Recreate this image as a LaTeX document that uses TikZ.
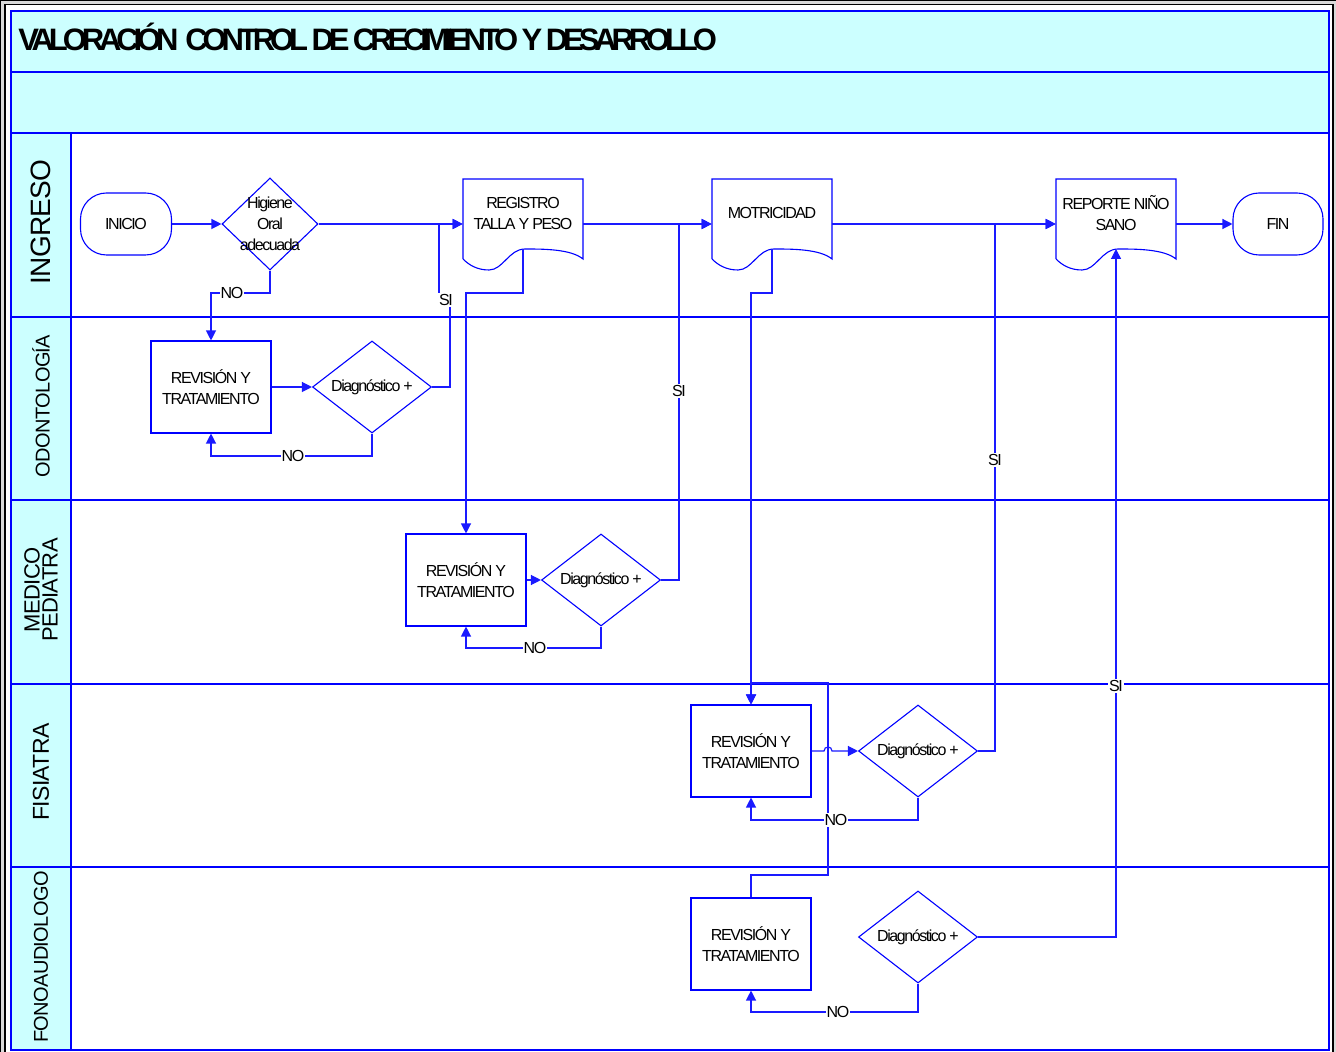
\documentclass[tikz,border=0pt]{standalone}
\usepackage{fontspec}
\setmainfont{Liberation Sans}
\newfontfamily\tightsf[LetterSpace=-9]{Liberation Sans}
\newfontfamily\titlesf[LetterSpace=-16.5]{Liberation Sans}
\newfontfamily\lanesf[LetterSpace=-3]{Liberation Sans}
\usetikzlibrary{shapes.geometric,arrows.meta,calc}
\definecolor{lanecyan}{HTML}{CCFFFF}
\definecolor{lineblue}{HTML}{0000FF}
\definecolor{connblue}{HTML}{1A1AFF}
\newcommand{\docshape}[4]{%
  \node[docbox] (#1) at (#2+60,#3+45) {};
  \coordinate (#1b) at (#2+60,#3+70);
  \draw[shp] (#2,#3+80) -- (#2,#3) -- (#2+120,#3) -- (#2+120,#3+80)
    .. controls (#2+108,#3+70) and (#2+80,#3+70) .. (#2+62,#3+70)
    .. controls (#2+46,#3+70) and (#2+40,#3+91) .. (#2+26,#3+91)
    .. controls (#2+14,#3+91) and (#2+6,#3+86) .. (#2,#3+80);
  \node[doctext] (#1t) at (#2+60,#3+34) {#4};
}
\begin{document}
\begin{tikzpicture}[x=0.5pt,y=-0.5pt,
  shp/.style={draw=lineblue, line width=0.55pt},
  conn/.style={draw=connblue, line width=0.6pt},
  arr/.style={-{Triangle[length=5pt,width=5pt]}},
  txt/.style={font=\tightsf\fontsize{8pt}{10.5pt}\selectfont, text=black},
  box/.style={shp, txt, rectangle, minimum width=60pt, minimum height=46pt, inner sep=0pt, align=center},
  dia/.style={shp, txt, diamond, aspect=1.3, minimum width=59.5pt, minimum height=46pt, inner sep=0pt},
  term/.style={shp, txt, rectangle, rounded corners=13pt, minimum width=45.5pt, minimum height=31pt, inner sep=0pt},
  docbox/.style={rectangle, minimum width=60pt, minimum height=45pt, inner sep=0pt},
  doctext/.style={txt, align=center, inner sep=0pt},
  lbl/.style={txt, fill=white, inner sep=0.6pt},
  lane/.style={font=\lanesf\fontsize{10pt}{9pt}\selectfont, rotate=90, align=center, inner sep=0pt},
]
\useasboundingbox (0,0) rectangle (1336,1052);
% outer frame
\fill[gray!30] (0,0) rectangle (1336,1052);
\fill[white] (5,4.5) rectangle (1333,1052);
\draw[black, line width=0.6pt] (0.6,1052) -- (0.6,0.6) -- (1336,0.6);
\draw[black, line width=0.8pt] (5,1052) -- (5,4.5) -- (1333,4.5) -- (1333,1052);
% bands
\fill[lanecyan] (11,11) rectangle (1329,133);
\fill[lanecyan] (11,133) rectangle (71,1050);
\draw[lineblue, line width=0.8pt] (11,317) -- (1329,317);
\draw[lineblue, line width=0.8pt] (11,500) -- (1329,500);
\draw[lineblue, line width=0.8pt] (11,684) -- (1329,684);
\draw[lineblue, line width=0.8pt] (11,867) -- (1329,867);
\draw[lineblue, line width=0.55pt] (71,133) -- (71,1050);
\draw[lineblue, line width=1.2pt] (11,72) -- (1329,72);
\draw[lineblue, line width=1.2pt] (11,133) -- (1329,133);
\draw[lineblue, line width=1.2pt] (11,11) rectangle (1329,1050);
% title and lane names
\node[anchor=base west, inner sep=0pt, font=\titlesf\bfseries\fontsize{15.5pt}{18pt}\selectfont] (title) at (18,51) {VALORACIÓN~~CONTROL DE CRECIMIENTO Y DESARROLLO};
\node[lane, font=\lanesf\fontsize{14pt}{16pt}\selectfont] (lIng) at (41,222) {INGRESO};
\node[lane] (lOdo) at (41,406) {ODONTOLOGÍA};
\node[lane, font=\lanesf\fontsize{11pt}{9pt}\selectfont] (lMed) at (41,590) {MEDICO\\PEDIATRA};
\node[lane, font=\lanesf\fontsize{11.5pt}{12pt}\selectfont] (lFis) at (41,772) {FISIATRA};
\node[lane] (lFon) at (41,957) {FONOAUDIOLOGO};
% shapes
\node[term] (inicio) at (126,224) {INICIO};
\node[term, minimum width=45pt] (fin) at (1278,224) {FIN};
\node[shp, diamond, minimum width=48pt, minimum height=46pt, inner sep=0pt] (hig) at (270,224) {};
\node[txt, align=center, inner sep=0pt] (higt) at (270,224) {Higiene\\Oral\\adecuada};
\docshape{reg}{463}{179}{REGISTRO\\TALLA Y PESO}
\docshape{mot}{712}{179}{MOTRICIDAD}
\docshape{rep}{1056}{179}{REPORTE NIÑO\\SANO}
\node[box] (rev1) at (211,387) {REVISIÓN Y\\TRATAMIENTO};
\node[dia] (d1) at (372,387) {Diagnóstico +};
\node[box] (rev2) at (466,580) {REVISIÓN Y\\TRATAMIENTO};
\node[dia] (d2) at (601,580) {Diagnóstico +};
\node[box] (rev3) at (751,751) {REVISIÓN Y\\TRATAMIENTO};
\node[dia] (d3) at (918,751) {Diagnóstico +};
\node[box] (rev5) at (751,944) {REVISIÓN Y\\TRATAMIENTO};
\node[dia] (d5) at (918,937) {Diagnóstico +};
% connectors
\draw[conn,arr] (inicio.east) -- (hig.west);
\draw[conn,arr] (hig.east) -- (reg.west);
\draw[conn,arr] (hig.south) -- (270,293) -- (211,293) -- (rev1.north);
\draw[conn,arr] (d1.east) -- (450,387) -- (450,300) -- (439,300) -- (439,224) -- (reg.west);
\draw[conn,arr] (rev1.east) -- (d1.west);
\draw[conn,arr] (d1.south) -- (372,456) -- (211,456) -- (rev1.south);
\draw[conn,arr] (regb) -- (523,293) -- (466,293) -- (rev2.north);
\draw[conn,arr] (rev2.east) -- (d2.west);
\draw[conn,arr] (d2.south) -- (601,648) -- (466,648) -- (rev2.south);
\draw[conn,arr] (d2.east) -- (679,580) -- (679,224) -- (mot.west);
\draw[conn,arr] (reg.east) -- (mot.west);
\draw[conn,arr] (motb) -- (772,293) -- (751,293) -- (rev3.north);
\draw[conn,arr] (mot.east) -- (rep.west);
\draw[conn,arr] (rev3.east) -- (824,751) .. controls (824,745.7) and (832,745.7) .. (832,751) -- (d3.west);
\draw[conn,arr] (d3.south) -- (918,820) -- (751,820) -- (rev3.south);
\draw[conn,arr] (d3.east) -- (995,751) -- (995,224) -- (rep.west);
\draw[conn,arr] (rev5.north) -- (751,875) -- (828,875) -- (828,683) -- (751,683) -- (rev3.north);
\draw[conn,arr] (d5.south) -- (918,1012) -- (751,1012) -- (rev5.south);
\draw[conn,arr] (d5.east) -- (1116,937) -- (repb);
\draw[conn,arr] (rep.east) -- (fin.west);
% labels
\node[lbl] (no1) at (232,293) {NO};
\node[lbl] (si1) at (446,300) {SI};
\node[lbl] (no2) at (293,456) {NO};
\node[lbl] (si2) at (679,391) {SI};
\node[lbl] (no3) at (535,648) {NO};
\node[lbl] (no4) at (836,820) {NO};
\node[lbl] (si3) at (995,460) {SI};
\node[lbl] (no5) at (838,1012) {NO};
\node[lbl] (si4) at (1116,686) {SI};
\end{tikzpicture}
\end{document}
